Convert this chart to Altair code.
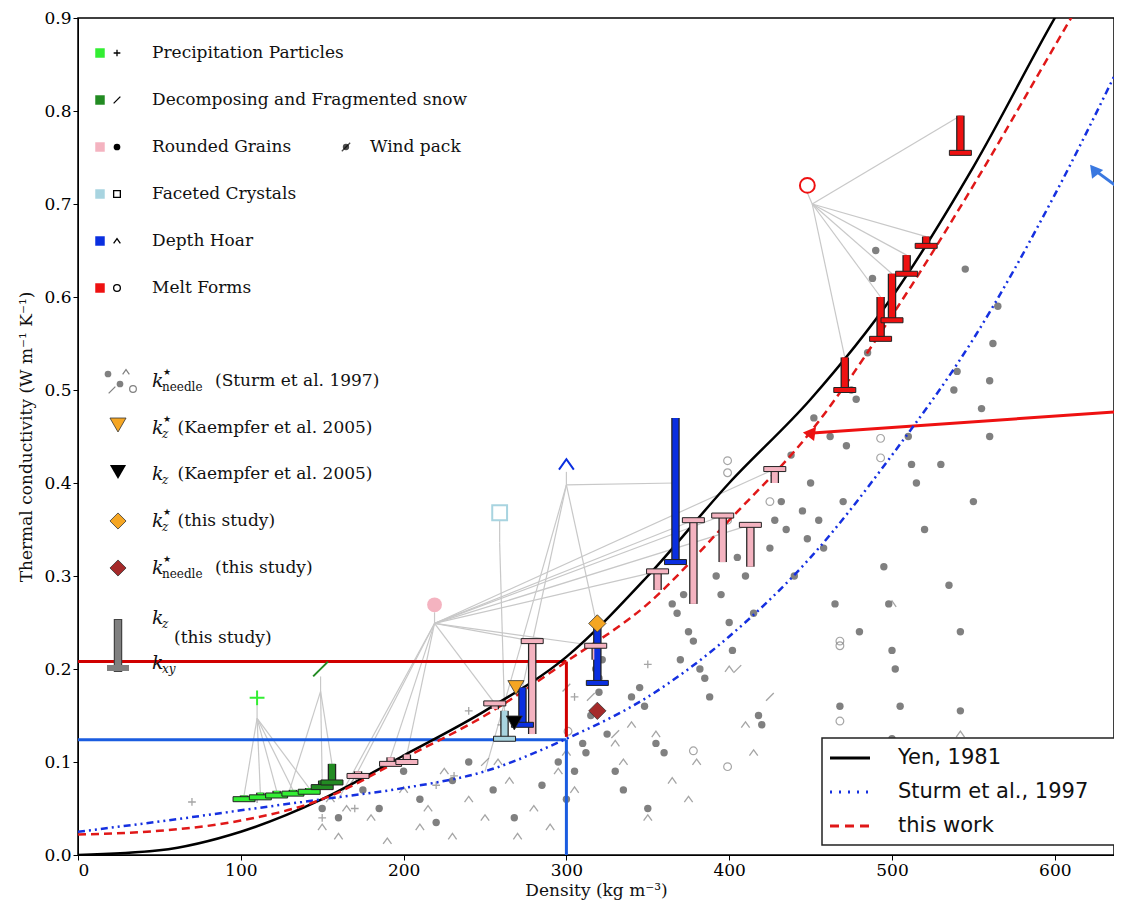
import altair as alt
import pandas as pd

alt.data_transformers.disable_max_rows()

# --- model curves ---
yen_rho = [0, 50, 100, 150, 200, 250, 300, 350, 400, 450, 500, 550, 600, 620]
yen_k = [0.0, 0.005, 0.025, 0.06, 0.107, 0.155, 0.213, 0.30, 0.40, 0.49, 0.60, 0.74, 0.90, 0.96]
sturm_rho = [0, 50, 100, 150, 200, 250, 300, 350, 400, 450, 500, 550, 600, 640]
sturm_k = [0.025, 0.036, 0.048, 0.06, 0.072, 0.09, 0.125, 0.17, 0.235, 0.32, 0.43, 0.555, 0.71, 0.85]
work_rho = [0, 50, 100, 150, 200, 250, 300, 350, 400, 450, 500, 550, 600, 620]
work_k = [0.022, 0.026, 0.037, 0.06, 0.104, 0.15, 0.208, 0.27, 0.36, 0.455, 0.58, 0.72, 0.87, 0.93]

# --- this study bars: density, kz, kxy, class ---
bar_rho = [102, 112, 122, 132, 142, 150, 156, 172, 192, 202, 256, 262, 273, 279, 318, 319,
           356, 367, 378, 396, 413, 428, 471, 493, 500, 509, 521, 542]
bar_kz = [0.064, 0.067, 0.069, 0.070, 0.072, 0.080, 0.098, 0.09, 0.105, 0.108, 0.157, 0.155, 0.18, 0.13,
          0.21, 0.245, 0.285, 0.47, 0.27, 0.315, 0.31, 0.40, 0.535, 0.60, 0.625, 0.645, 0.665, 0.795]
bar_kxy = [0.060, 0.062, 0.064, 0.066, 0.068, 0.073, 0.078, 0.085, 0.098, 0.100, 0.163, 0.125, 0.14, 0.23,
           0.225, 0.185, 0.305, 0.315, 0.36, 0.365, 0.355, 0.415, 0.50, 0.555, 0.575, 0.625, 0.655, 0.755]
bar_cls = ["PP"] * 5 + ["DF"] * 2 + ["RG"] * 4 + ["FC", "DH", "RG", "RG", "DH",
           "RG", "DH", "RG", "RG", "RG", "RG"] + ["MF"] * 6

cls_names = ["PP", "DF", "RG", "FC", "DH", "MF"]
cls_colors = ["#33ee33", "#228b22", "#f4b3c0", "#a8d4e0", "#0a2fe0", "#ee1111"]

# --- Sturm et al. 1997 individual samples ---
wind_rho = [150, 160, 175, 185, 200, 210, 220, 230, 240, 255, 268, 285, 295, 300, 305, 310, 312,
            318, 320, 322, 320, 315, 325, 330, 335, 340, 345, 348, 350, 355, 360, 365, 368, 372, 375,
            370, 378, 382, 385, 388, 392, 395, 400, 402, 405, 410, 415, 418, 420, 425, 428, 432, 435,
            438, 440, 445, 448, 450, 452, 455, 458, 462, 465, 468, 470, 472, 475, 478, 480, 485, 488,
            490, 495, 498, 500, 502, 505, 510, 512, 515, 538, 540, 545, 560, 562, 565, 560, 542, 542, 500,
            530, 550, 555, 520, 535]
wind_k = [0.05, 0.04, 0.07, 0.05, 0.09, 0.06, 0.035, 0.08, 0.1, 0.07, 0.04, 0.075, 0.1, 0.06, 0.09, 0.12, 0.11,
          0.2, 0.19, 0.21, 0.175, 0.15, 0.13, 0.09, 0.07, 0.17, 0.18, 0.16, 0.05, 0.12, 0.11, 0.27, 0.26, 0.28, 0.24,
          0.21, 0.23, 0.2, 0.19, 0.17, 0.3, 0.28, 0.25, 0.22, 0.32, 0.3, 0.26, 0.15, 0.14, 0.33, 0.36, 0.38, 0.35,
          0.43, 0.3, 0.37, 0.34, 0.4, 0.47, 0.36, 0.33, 0.45, 0.27, 0.16, 0.38, 0.44, 0.5, 0.49, 0.24, 0.54, 0.62,
          0.65, 0.31, 0.27, 0.22, 0.2, 0.16, 0.45, 0.42, 0.4, 0.5, 0.52, 0.63, 0.51, 0.55, 0.59, 0.45, 0.24, 0.155, 0.125,
          0.42, 0.38, 0.48, 0.35, 0.29]
open_rho = [399, 399, 399, 425, 493, 493, 468, 468, 468, 399, 378, 301]
open_k = [0.424, 0.411, 0.36, 0.38, 0.448, 0.427, 0.23, 0.225, 0.144, 0.095, 0.112, 0.133]
hoar_rho = [150, 155, 160, 165, 170, 180, 190, 200, 210, 215, 225, 230, 240, 250, 258, 265, 270, 280,
            290, 295, 300, 305, 330, 335, 340, 350, 355, 365, 375, 380, 400, 410, 415, 500, 542]
hoar_k = [0.03, 0.06, 0.02, 0.05, 0.08, 0.04, 0.015, 0.07, 0.03, 0.05, 0.09, 0.02, 0.06, 0.04, 0.1, 0.08,
          0.02, 0.05, 0.03, 0.09, 0.11, 0.07, 0.12, 0.1, 0.14, 0.04, 0.13, 0.08, 0.06, 0.1, 0.2, 0.14, 0.11, 0.27, 0.13]
plus_rho = [70, 110, 150, 170, 220, 231, 240, 258, 260, 305, 350]
plus_k = [0.057, 0.06, 0.04, 0.05, 0.075, 0.085, 0.155, 0.16, 0.14, 0.17, 0.205]
slash_rho = [250, 300, 315, 330, 425, 405]
slash_k = [0.1, 0.18, 0.17, 0.13, 0.17, 0.2]

# --- Kaempfer 2005 and this-study single values ---
tri_rho, tri_k, tri_col = [269, 268], [0.18, 0.142], ["#f5a623", "#000000"]
dia_rho, dia_k, dia_col = [319, 319], [0.249, 0.155], ["#f5a623", "#a52a2a"]

# --- class symbols and their hubs ---
sym_rho = [110, 149, 219, 259, 300, 448]
sym_k = [0.169, 0.20, 0.269, 0.368, 0.42, 0.72]
hub_rho = [110, 149, 219, 259, 300, 451]
hub_k = [0.147, 0.176, 0.249, 0.336, 0.398, 0.70]
hub_targets = [
    [(102, 0.064), (112, 0.067), (122, 0.069), (132, 0.070), (142, 0.072)],
    [(150, 0.08), (156, 0.098), (130, 0.07)],
    [(172, 0.09), (192, 0.105), (202, 0.108), (256, 0.163), (279, 0.23), (318, 0.225),
     (356, 0.305), (378, 0.36), (396, 0.365), (413, 0.355), (428, 0.415), (160, 0.06)],
    [(262, 0.155)],
    [(273, 0.18), (319, 0.245), (367, 0.40), (250, 0.09)],
    [(471, 0.535), (493, 0.60), (500, 0.625), (509, 0.645), (521, 0.665), (542, 0.795)],
]

XD = [0, 1036 / 1.628]
YD = [0, 0.9]
xs = alt.Scale(domain=XD, nice=False, zero=False)
ys = alt.Scale(domain=YD, nice=False, zero=False)
SERIF = "DejaVu Serif"

axis_x = alt.Axis(values=[0, 100, 200, 300, 400, 500, 600], grid=False, labelFont=SERIF, labelFontSize=17,
                  labelColor="black", titleFont=SERIF, titleFontSize=17, titleFontWeight="normal",
                  titleColor="#111", domainColor="black", tickColor="black", tickSize=5, titlePadding=4)
axis_y = alt.Axis(values=[i / 10 for i in range(10)], format=".1f", grid=False, labelFont=SERIF,
                  labelFontSize=17, labelColor="black", titleFont=SERIF, titleFontSize=17,
                  titleFontWeight="normal", titleColor="#111", domainColor="black", tickColor="black",
                  tickSize=5, titlePadding=8)


def X(field="rho"):
    return alt.X(f"{field}:Q", scale=xs, title="Density (kg m⁻³)", axis=axis_x)


def Y(field="k"):
    return alt.Y(f"{field}:Q", scale=ys, title="Thermal conductivity (W m⁻¹ K⁻¹)", axis=axis_y)


# hub lines
hub_rows = []
for i, tg in enumerate(hub_targets):
    hub_rows.append(dict(rho=sym_rho[i], k=sym_k[i] - 0.008, rho2=hub_rho[i], k2=hub_k[i]))
    for (r, kk) in tg:
        hub_rows.append(dict(rho=hub_rho[i], k=hub_k[i], rho2=r, k2=kk))
hubs = alt.Chart(pd.DataFrame(hub_rows)).mark_rule(color="#c8c8c8", strokeWidth=1.2).encode(
    x=X(), y=Y(), x2="rho2:Q", y2="k2:Q")

gray = "#808080"
wind = alt.Chart(pd.DataFrame(dict(rho=wind_rho, k=wind_k))).mark_point(
    shape="circle", filled=True, color=gray, size=55, opacity=1).encode(x=X(), y=Y())
opens = alt.Chart(pd.DataFrame(dict(rho=open_rho, k=open_k))).mark_point(
    shape="circle", filled=False, color=gray, size=60, strokeWidth=1.2).encode(x=X(), y=Y())
chev = "M-1,0.7L0,-0.7L1,0.7"
hoar = alt.Chart(pd.DataFrame(dict(rho=hoar_rho, k=hoar_k))).mark_point(
    shape=chev, filled=False, color=gray, size=70, strokeWidth=1.3).encode(x=X(), y=Y())
plus = alt.Chart(pd.DataFrame(dict(rho=plus_rho, k=plus_k))).mark_point(
    shape="M-1,0L1,0M0,-1L0,1", filled=False, color=gray, size=60, strokeWidth=1.3).encode(x=X(), y=Y())
slash = alt.Chart(pd.DataFrame(dict(rho=slash_rho, k=slash_k))).mark_point(
    shape="M-1,1L1,-1", filled=False, color=gray, size=60, strokeWidth=1.3).encode(x=X(), y=Y())

# curves
curves = pd.concat([
    pd.DataFrame(dict(rho=yen_rho, k=yen_k, s="Yen")),
    pd.DataFrame(dict(rho=sturm_rho, k=sturm_k, s="Sturm")),
    pd.DataFrame(dict(rho=work_rho, k=work_k, s="work")),
])
yen = alt.Chart(curves).transform_filter("datum.s == 'Yen'").mark_line(
    color="black", strokeWidth=2.5, interpolate="monotone", clip=True).encode(x=X(), y=Y())
sturm = alt.Chart(curves).transform_filter("datum.s == 'Sturm'").mark_line(
    color="#1530e0", strokeWidth=2.5, strokeDash=[7, 4, 2, 4, 2, 4], interpolate="monotone", clip=True).encode(x=X(), y=Y())
work = alt.Chart(curves).transform_filter("datum.s == 'work'").mark_line(
    color="#e01818", strokeWidth=2.5, strokeDash=[8, 5], interpolate="monotone", clip=True).encode(x=X(), y=Y())

# bars of this study
bars_df = pd.DataFrame(dict(rho=bar_rho, kz=bar_kz, kxy=bar_kxy, cls=bar_cls))
ccol = alt.Color("cls:N", scale=alt.Scale(domain=cls_names, range=cls_colors), legend=None)
bar_edge = alt.Chart(bars_df).mark_rule(color="#222", strokeWidth=8.5).encode(
    x=X(), y=Y("kz"), y2="kxy:Q")
bar_fill = alt.Chart(bars_df).mark_rule(strokeWidth=6).encode(
    x=X(), y=Y("kz"), y2="kxy:Q", color=ccol)
caps = alt.Chart(bars_df).mark_tick(orient="horizontal", size=22, thickness=5, stroke="#222",
                                    strokeWidth=1, opacity=1).encode(x=X(), y=Y("kxy"), color=ccol)

tris = alt.Chart(pd.DataFrame(dict(rho=tri_rho, k=tri_k, c=tri_col))).mark_point(
    shape="triangle-down", filled=True, size=260, opacity=1, stroke="#333", strokeWidth=0.8).encode(
    x=X(), y=Y(), color=alt.Color("c:N", scale=None))
dias = alt.Chart(pd.DataFrame(dict(rho=dia_rho, k=dia_k, c=dia_col))).mark_point(
    shape="diamond", filled=True, size=300, opacity=1, stroke="#333", strokeWidth=0.8).encode(
    x=X(), y=Y(), color=alt.Color("c:N", scale=None))

# class symbols
sym_shapes = ["M-1,0L1,0M0,-1L0,1", "M-1,1L1,-1", "circle", "square", chev, "circle"]
sym_filled = [False, False, True, False, False, False]
syms = []
for i in range(6):
    syms.append(alt.Chart(pd.DataFrame(dict(rho=[sym_rho[i]], k=[sym_k[i]]))).mark_point(
        shape=sym_shapes[i], filled=sym_filled[i], color=cls_colors[i], size=220, strokeWidth=2,
        opacity=1).encode(x=X(), y=Y()))

# reference boxes and arrows
box_rows = [
    dict(rho=0, k=0.208, rho2=300, k2=0.208, c="#d00000"),
    dict(rho=300, k=0.208, rho2=300, k2=0.127, c="#d00000"),
    dict(rho=0, k=0.124, rho2=300, k2=0.124, c="#1a5ce0"),
    dict(rho=300, k=0.124, rho2=300, k2=0.0, c="#1a5ce0"),
    dict(rho=641, k=0.477, rho2=449, k2=0.4535, c="#ee1111"),
    dict(rho=641, k=0.715, rho2=624, k2=0.737, c="#3a78e0"),
]
boxes = alt.Chart(pd.DataFrame(box_rows)).mark_rule(strokeWidth=3, clip=True).encode(
    x=X(), y=Y(), x2="rho2:Q", y2="k2:Q", color=alt.Color("c:N", scale=None))
heads = alt.Chart(pd.DataFrame(dict(rho=[449, 624], k=[0.4535, 0.737], c=["#ee1111", "#3a78e0"],
                                    a=[-82, -38]))).mark_point(
    shape="triangle-up", filled=True, size=200, opacity=1).encode(
    x=X(), y=Y(), color=alt.Color("c:N", scale=None), angle=alt.Angle("a:Q", scale=None))

# --- upper-left legend (pixel positions inside the plot area) ---
leg = []
top_items = [("Precipitation Particles", "M-1,0L1,0M0,-1L0,1", False),
             ("Decomposing and Fragmented snow", "M-1,1L1,-1", False),
             ("Rounded Grains", "circle", True),
             ("Faceted Crystals", "square", False),
             ("Depth Hoar", chev, False),
             ("Melt Forms", "circle", False)]
for i, (label, shp, fl) in enumerate(top_items):
    yy = 35 + i * 47
    leg.append(alt.Chart().mark_square(color=cls_colors[i], size=90, opacity=1).encode(
        x=alt.value(22), y=alt.value(yy)))
    leg.append(alt.Chart().mark_point(shape=shp, filled=fl, color="black", size=45, strokeWidth=1.3,
                                      opacity=1).encode(x=alt.value(39), y=alt.value(yy)))
    leg.append(alt.Chart().mark_text(text=label, font=SERIF, fontSize=17, align="left", color="#111").encode(
        x=alt.value(74), y=alt.value(yy)))
leg.append(alt.Chart().mark_point(shape="circle", filled=True, color="black", size=40).encode(
    x=alt.value(268), y=alt.value(129)))
leg.append(alt.Chart().mark_point(shape="M-1,1L1,-1", filled=False, color="black", size=70, strokeWidth=1.3).encode(
    x=alt.value(268), y=alt.value(129)))
leg.append(alt.Chart().mark_text(text="Wind pack", font=SERIF, fontSize=17, align="left", color="#111").encode(
    x=alt.value(292), y=alt.value(129)))


def ktext(x, y, sub, star, rest):
    out = [alt.Chart().mark_text(text="k", font=SERIF, fontSize=19, fontStyle="italic", align="left",
                                 color="#111").encode(x=alt.value(x), y=alt.value(y))]
    if star:
        out.append(alt.Chart().mark_text(text="★", fontSize=9, align="left", color="#111").encode(
            x=alt.value(x + 11), y=alt.value(y - 9)))
    out.append(alt.Chart().mark_text(text=sub, font=SERIF, fontSize=12,
                                     fontStyle="italic" if len(sub) < 3 else "normal",
                                     align="left", color="#111").encode(x=alt.value(x + 10), y=alt.value(y + 6)))
    if rest:
        out.append(alt.Chart().mark_text(text=rest, font=SERIF, fontSize=17, align="left", color="#111").encode(
            x=alt.value(x + 10 + 7.5 * len(sub) + 8), y=alt.value(y)))
    return out


rows2 = [(363, "needle", True, "(Sturm et al. 1997)"),
         (410, "z", True, "(Kaempfer et al. 2005)"),
         (456, "z", False, "(Kaempfer et al. 2005)"),
         (503, "z", True, "(this study)"),
         (550, "needle", True, "(this study)")]
for yy, sub, star, rest in rows2:
    leg += ktext(74, yy, sub, star, rest)
leg += ktext(74, 600, "z", False, None)
leg += ktext(74, 645, "xy", False, None)
leg.append(alt.Chart().mark_text(text="(this study)", font=SERIF, fontSize=17, align="left", color="#111").encode(
    x=alt.value(96), y=alt.value(620)))
leg.append(alt.Chart().mark_point(shape="triangle-down", filled=True, color="#f5a623", size=260, opacity=1,
                                  stroke="#333", strokeWidth=0.8).encode(x=alt.value(40), y=alt.value(407)))
leg.append(alt.Chart().mark_point(shape="triangle-down", filled=True, color="black", size=260, opacity=1).encode(
    x=alt.value(40), y=alt.value(454)))
leg.append(alt.Chart().mark_point(shape="diamond", filled=True, color="#f5a623", size=260, opacity=1,
                                  stroke="#333", strokeWidth=0.8).encode(x=alt.value(40), y=alt.value(503)))
leg.append(alt.Chart().mark_point(shape="diamond", filled=True, color="#a52a2a", size=260, opacity=1,
                                  stroke="#333", strokeWidth=0.8).encode(x=alt.value(40), y=alt.value(550)))
leg.append(alt.Chart().mark_rule(color="#444", strokeWidth=8.5).encode(
    x=alt.value(40), y=alt.value(601), y2=alt.value(654)))
leg.append(alt.Chart().mark_rule(color="#808080", strokeWidth=6).encode(
    x=alt.value(40), y=alt.value(602), y2=alt.value(653)))
leg.append(alt.Chart().mark_rule(color="#808080", strokeWidth=6).encode(
    x=alt.value(29), x2=alt.value(51), y=alt.value(650)))
for dx, dy, shp, fl in [(30, 356, "circle", True), (42, 366, "circle", True), (48, 354, chev, False),
                        (55, 371, "circle", False), (34, 372, "M-1,1L1,-1", False)]:
    leg.append(alt.Chart().mark_point(shape=shp, filled=fl, color=gray, size=45, strokeWidth=1.2,
                                      opacity=1).encode(x=alt.value(dx), y=alt.value(dy)))

# bottom-right legend
br = [alt.Chart().mark_rect(fill="white", stroke="#222", strokeWidth=1.5).encode(
    x=alt.value(744), x2=alt.value(1060), y=alt.value(720), y2=alt.value(827))]
for i, (lab, col, dash) in enumerate([("Yen, 1981", "black", [1, 0]),
                                       ("Sturm et al., 1997", "#1530e0", [2, 7, 2, 7]),
                                       ("this work", "#e01818", [9, 6])]):
    yy = 740 + i * 34
    br.append(alt.Chart().mark_rule(color=col, strokeWidth=3, strokeDash=dash).encode(
        x=alt.value(752), x2=alt.value(792), y=alt.value(yy)))
    br.append(alt.Chart().mark_text(text=lab, font="DejaVu Sans", fontSize=21, align="left",
                                    color="#111").encode(x=alt.value(820), y=alt.value(yy)))

cap = [alt.Chart().mark_text(text="Calonne et al. (", font="Open Sans", fontSize=26, align="left",
                             baseline="top", color="#222").encode(x=alt.value(722), y=alt.value(880)),
       alt.Chart().mark_text(text="2011", font="Open Sans", fontSize=26, align="left",
                             baseline="top", color="#22a0c8").encode(x=alt.value(922), y=alt.value(880)),
       alt.Chart().mark_text(text=")", font="Open Sans", fontSize=26, align="left",
                             baseline="top", color="#222").encode(x=alt.value(984), y=alt.value(880))]

chart = alt.layer(
    hubs, hoar, plus, slash, opens, wind, boxes, heads, yen, sturm, work,
    bar_edge, bar_fill, caps, tris, dias, *syms, *leg, *br, *cap
).properties(
    width=1036, height=837,
    padding={"left": 70, "top": 10, "right": 0, "bottom": 45},
    autosize=alt.AutoSizeParams(type="none"),
    background="white",
).configure_view(stroke="black", strokeWidth=1.5)

chart.save("out.html", embed_options={"renderer": "svg", "actions": False})
